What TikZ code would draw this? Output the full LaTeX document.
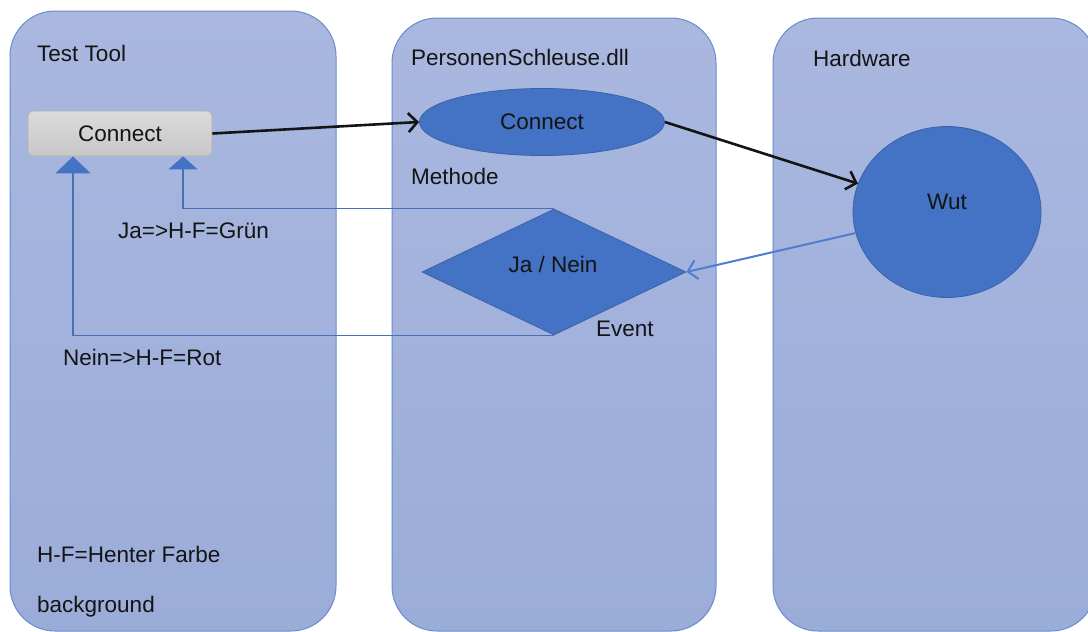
\documentclass[tikz,border=0pt]{standalone}
\usepackage{fontspec}
\setmainfont{Liberation Sans}
\usetikzlibrary{shapes.geometric,arrows.meta}
\definecolor{paneltop}{HTML}{AAB8E0}
\definecolor{panelbot}{HTML}{9AACD8}
\definecolor{panelline}{HTML}{6A8CCC}
\definecolor{shapefill}{HTML}{4472C4}
\definecolor{shapeline}{HTML}{3A62A8}
\definecolor{connline}{HTML}{4C6FB3}
\definecolor{evline}{HTML}{4F7ED0}
\definecolor{txt}{HTML}{141414}
\tikzset{
  panel/.style={rounded corners=45pt,top color=paneltop,bottom color=panelbot,draw=panelline,line width=1pt},
  btnbox/.style={rectangle,rounded corners=5pt,top color=white!86!black,bottom color=white!78!black,draw=white!70!black,line width=0.8pt,minimum width=184pt,minimum height=45pt,inner sep=0pt},
  blueshape/.style={fill=shapefill,draw=shapeline,line width=0.8pt,inner sep=0pt},
  lbl/.style={inner sep=0pt,text=txt,anchor=base west},
  callarrow/.style={line width=2.6pt,draw=black!92,-{Straight Barb[length=9pt,width=19pt]}},
  evarrow/.style={line width=2pt,draw=evline,-{Straight Barb[length=9pt,width=19pt]}},
  backline/.style={line width=1.4pt,draw=connline},
}
\begin{document}
\begin{tikzpicture}[x=1pt,y=-1pt,font=\fontsize{22.5}{27}\selectfont]
\useasboundingbox (0,0) rectangle (1088,632);
\begin{scope}
\clip (0,0) rectangle (1088,632);
% panels
\path[panel] (10,11) rectangle (336,631);
\path[panel] (392,18) rectangle (716,631);
\path[panel] (773,18) rectangle (1096,631);

% panel titles
\node[lbl] (t1) at (37,61) {Test Tool};
\node[lbl] (t2) at (411,65) {PersonenSchleuse.dll};
\node[lbl] (t3) at (813,66) {Hardware};

% shapes
\node[btnbox,text=txt] (btn) at (120,133.5) {Connect};
\node[blueshape,ellipse,minimum width=245pt,minimum height=67pt,text=txt] (ell) at (542,122) {Connect};
\node[blueshape,diamond,minimum width=264pt,minimum height=126pt,
      label={[inner sep=0pt,text=txt,xshift=-1pt,yshift=8pt]center:Ja / Nein}] (dia) at (554,272) {};
\node[blueshape,ellipse,minimum width=188pt,minimum height=171pt,
      label={[inner sep=0pt,text=txt,yshift=10pt]center:Wut}] (wut) at (947,212) {};

% labels
\node[lbl] (meth) at (411,184) {Methode};
\node[lbl] (ev) at (596,336) {Event};
\node[lbl] (ja) at (118,238) {Ja=>H-F=Grün};
\node[lbl] (nein) at (63,365) {Nein=>H-F=Rot};
\node[lbl] (hf) at (37,562) {H-F=Henter Farbe};
\node[lbl] (bg) at (37,612) {background};

% connectors
\draw[callarrow] (btn.east) -- (ell.west);
\draw[callarrow] (ell.east) -- (wut);
\draw[evarrow] (wut) -- (dia.east);
\draw[backline,-{Triangle[length=13pt,width=29pt,fill=shapefill,color=shapefill]}]
  (dia.north) -| ([xshift=63pt]btn.south);
\draw[backline,-{Triangle[length=17pt,width=35pt,fill=shapefill,color=shapefill]}]
  (dia.south) -| ([xshift=-47pt]btn.south);
\end{scope}
\end{tikzpicture}
\end{document}
